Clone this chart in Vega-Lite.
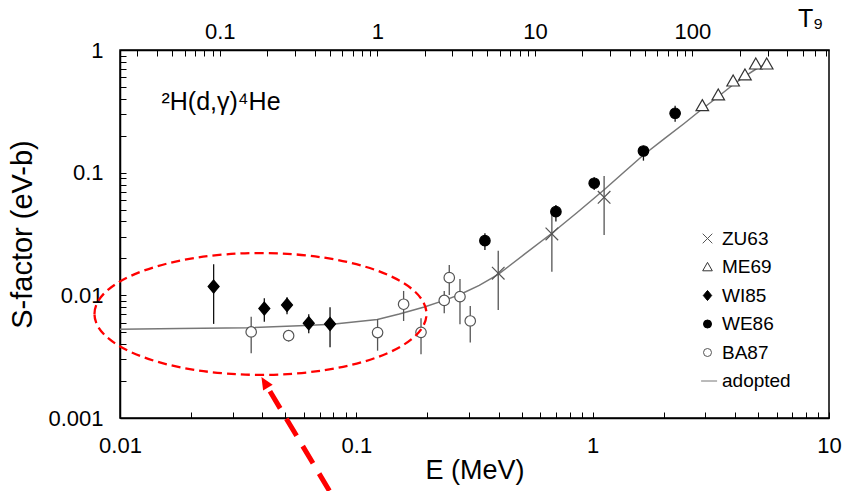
{
  "$schema": "https://vega.github.io/schema/vega-lite/v6.json",
  "width": 709,
  "height": 368,
  "autosize": "none",
  "padding": {"left": 120, "top": 50, "right": 15, "bottom": 73},
  "background": "white",
  "config": {
    "view": {"stroke": "#000", "strokeWidth": 1.5},
    "axis": {"grid": false, "labelFont": "Liberation Sans", "titleFont": "Liberation Sans", "labelColor": "#000", "titleColor": "#000", "titleFontWeight": "normal", "domainColor": "#000", "domainWidth": 1.5, "tickColor": "#000", "tickWidth": 1, "labelFlush": false, "labelOverlap": false},
    "legend": {"orient": "none", "legendX": 578, "legendY": 179, "labelFont": "Liberation Sans", "labelFontSize": 19, "labelColor": "#000", "symbolSize": 64, "rowPadding": 8.5, "labelOffset": 5, "symbolStrokeWidth": 1, "padding": 0}
  },
  "datasets": {
    "pts": [
      {"series": "ZU63", "E": 0.3985, "S": 0.01514, "lo": 0.0076, "hi": 0.0231},
      {"series": "ZU63", "E": 0.672, "S": 0.03165, "lo": 0.0156, "hi": 0.0467},
      {"series": "ZU63", "E": 1.118, "S": 0.063, "lo": 0.0311, "hi": 0.094},
      {"series": "ME69", "E": 2.91, "S": 0.3516, "lo": 0.325, "hi": 0.3516},
      {"series": "ME69", "E": 3.40, "S": 0.4298, "lo": 0.397, "hi": 0.4298},
      {"series": "ME69", "E": 3.93, "S": 0.5587, "lo": 0.515, "hi": 0.5587},
      {"series": "ME69", "E": 4.41, "S": 0.6256, "lo": 0.578, "hi": 0.6256},
      {"series": "ME69", "E": 4.90, "S": 0.769, "lo": 0.71, "hi": 0.769},
      {"series": "ME69", "E": 5.45, "S": 0.769, "lo": 0.71, "hi": 0.769},
      {"series": "WI85", "E": 0.0249, "S": 0.01178, "lo": 0.00585, "hi": 0.01792},
      {"series": "WI85", "E": 0.0408, "S": 0.0078, "lo": 0.0061, "hi": 0.00947},
      {"series": "WI85", "E": 0.0509, "S": 0.00835, "lo": 0.00702, "hi": 0.00965},
      {"series": "WI85", "E": 0.0629, "S": 0.00592, "lo": 0.00491, "hi": 0.00702},
      {"series": "WI85", "E": 0.0774, "S": 0.00585, "lo": 0.00378, "hi": 0.0080},
      {"series": "WE86", "E": 0.350, "S": 0.0279, "lo": 0.0234, "hi": 0.0321},
      {"series": "WE86", "E": 0.699, "S": 0.0481, "lo": 0.0399, "hi": 0.0545},
      {"series": "WE86", "E": 1.015, "S": 0.0820, "lo": 0.0723, "hi": 0.0918},
      {"series": "WE86", "E": 1.64, "S": 0.1502, "lo": 0.1253, "hi": 0.165},
      {"series": "WE86", "E": 2.233, "S": 0.305, "lo": 0.2604, "hi": 0.3516},
      {"series": "BA87", "E": 0.0359, "S": 0.00503, "lo": 0.00337, "hi": 0.0067},
      {"series": "BA87", "E": 0.0517, "S": 0.00469, "lo": 0.0042, "hi": 0.00522},
      {"series": "BA87", "E": 0.123, "S": 0.00497, "lo": 0.00354, "hi": 0.00638},
      {"series": "BA87", "E": 0.1585, "S": 0.00846, "lo": 0.00618, "hi": 0.01086},
      {"series": "BA87", "E": 0.1878, "S": 0.00499, "lo": 0.00331, "hi": 0.0065},
      {"series": "BA87", "E": 0.2355, "S": 0.00909, "lo": 0.00715, "hi": 0.01086},
      {"series": "BA87", "E": 0.2473, "S": 0.01394, "lo": 0.01008, "hi": 0.0177},
      {"series": "BA87", "E": 0.2745, "S": 0.00976, "lo": 0.00581, "hi": 0.0136},
      {"series": "BA87", "E": 0.3034, "S": 0.00618, "lo": 0.00412, "hi": 0.0082}
    ],
    "curve": [
      {"series": "adopted", "E": 0.01, "S": 0.00529},
      {"series": "adopted", "E": 0.01785, "S": 0.00537},
      {"series": "adopted", "E": 0.03528, "S": 0.00545},
      {"series": "adopted", "E": 0.05741, "S": 0.00565},
      {"series": "adopted", "E": 0.0791, "S": 0.00581},
      {"series": "adopted", "E": 0.1227, "S": 0.00636},
      {"series": "adopted", "E": 0.152, "S": 0.00705},
      {"series": "adopted", "E": 0.1939, "S": 0.00804},
      {"series": "adopted", "E": 0.2355, "S": 0.00909},
      {"series": "adopted", "E": 0.2745, "S": 0.01017},
      {"series": "adopted", "E": 0.3312, "S": 0.01204},
      {"series": "adopted", "E": 0.3985, "S": 0.01481},
      {"series": "adopted", "E": 0.5133, "S": 0.02154},
      {"series": "adopted", "E": 0.672, "S": 0.03207},
      {"series": "adopted", "E": 0.860, "S": 0.04738},
      {"series": "adopted", "E": 1.115, "S": 0.07228},
      {"series": "adopted", "E": 1.359, "S": 0.1013},
      {"series": "adopted", "E": 1.640, "S": 0.1394},
      {"series": "adopted", "E": 2.006, "S": 0.1883},
      {"series": "adopted", "E": 2.438, "S": 0.2518},
      {"series": "adopted", "E": 2.904, "S": 0.3305},
      {"series": "adopted", "E": 3.360, "S": 0.4101},
      {"series": "adopted", "E": 3.890, "S": 0.5135},
      {"series": "adopted", "E": 4.371, "S": 0.6025},
      {"series": "adopted", "E": 4.913, "S": 0.6999},
      {"series": "adopted", "E": 5.467, "S": 0.7762}
    ]
  },
  "layer": [
    {
      "layer": [
        {
          "data": {"name": "curve"},
          "mark": {"type": "line", "strokeWidth": 1.5},
          "encoding": {
            "x": {"field": "E", "type": "quantitative", "title": "E (MeV)",
              "scale": {"type": "log", "domain": [0.01, 10], "nice": false},
              "axis": {"orient": "bottom", "values": [0.01,0.02,0.03,0.04,0.05,0.06,0.07,0.08,0.09,0.1,0.2,0.3,0.4,0.5,0.6,0.7,0.8,0.9,1,2,3,4,5,6,7,8,9,10],
                "format": "~g", "labelExpr": "indexof([0.01,0.1,1,10], datum.value) >= 0 ? datum.label : ''",
                "tickSize": -6, "labelPadding": 23, "labelFontSize": 22, "titleFontSize": 27, "titlePadding": 1}},
            "y": {"field": "S", "type": "quantitative", "title": "S-factor (eV-b)",
              "scale": {"type": "log", "domain": [0.001, 1], "nice": false},
              "axis": {"values": [0.001,0.002,0.003,0.004,0.005,0.006,0.007,0.008,0.009,0.01,0.02,0.03,0.04,0.05,0.06,0.07,0.08,0.09,0.1,0.2,0.3,0.4,0.5,0.6,0.7,0.8,0.9,1],
                "format": "~g", "labelExpr": "indexof([0.001,0.01,0.1,1], datum.value) >= 0 ? datum.label : ''",
                "tickSize": -6, "labelPadding": 23, "labelFontSize": 22, "titleFontSize": 29, "titlePadding": 10}},
            "stroke": {"field": "series", "type": "nominal", "legend": {"title": null},
              "scale": {"domain": ["ZU63","ME69","WI85","WE86","BA87","adopted"], "range": ["#555555","#333333","#000000","#000000","#555555","#777777"]}}
          }
        },
        {
          "data": {"name": "pts"},
          "mark": {"type": "rule", "strokeWidth": 1.3},
          "encoding": {
            "x": {"field": "E", "type": "quantitative", "title": "E (MeV)"},
            "y": {"field": "lo", "type": "quantitative", "title": "S-factor (eV-b)"},
            "y2": {"field": "hi"},
            "color": {"condition": {"test": "datum.series === 'BA87' || datum.series === 'ZU63'", "value": "#555555"}, "value": "#111111"}
          }
        },
        {
          "data": {"name": "pts"},
          "mark": {"type": "point", "size": 110, "strokeWidth": 1.2, "opacity": 1},
          "encoding": {
            "x": {"field": "E", "type": "quantitative", "title": "E (MeV)"},
            "y": {"field": "S", "type": "quantitative", "title": "S-factor (eV-b)"},
            "shape": {"field": "series", "type": "nominal", "legend": {"title": null},
              "scale": {"domain": ["ZU63","ME69","WI85","WE86","BA87","adopted"],
                "range": ["M-1.2,-1.2L1.2,1.2M-1.2,1.2L1.2,-1.2", "M0,-1.15L1.2,0.95L-1.2,0.95Z", "M0,-1.25L1.05,0L0,1.25L-1.05,0Z", "circle", "circle", "M-1.6,0H2.4"]}},
            "fill": {"field": "series", "type": "nominal", "legend": {"title": null},
              "scale": {"domain": ["ZU63","ME69","WI85","WE86","BA87","adopted"], "range": ["transparent","#ffffff","#000000","#000000","#ffffff","transparent"]}},
            "stroke": {"field": "series", "type": "nominal", "legend": {"title": null}}
          }
        },
        {
          "data": {"values": [{"E": 0.01498, "S": 0.324, "label": "²H(d,γ)⁴He"}]},
          "mark": {"type": "text", "align": "left", "baseline": "alphabetic", "font": "Liberation Sans", "fontSize": 25, "color": "#000"},
          "encoding": {
            "x": {"field": "E", "type": "quantitative", "title": "E (MeV)"},
            "y": {"field": "S", "type": "quantitative", "title": "S-factor (eV-b)"},
            "text": {"field": "label"}
          }
        },
        {
          "data": {"values": [{"E": 0.0393, "S": 0.00705}]},
          "mark": {"type": "point", "shape": "M-1,0A1,0.367,0,1,1,1,0A1,0.367,0,1,1,-1,0Z", "size": 110224, "filled": false, "stroke": "#ff0000", "strokeWidth": 2.3, "strokeDash": [9, 5], "opacity": 1},
          "encoding": {
            "x": {"field": "E", "type": "quantitative", "title": "E (MeV)"},
            "y": {"field": "S", "type": "quantitative", "title": "S-factor (eV-b)"}
          }
        },
        {
          "data": {"values": [{"E": 0.0769, "S": 0.000255, "E2": 0.04108, "S2": 0.001932}]},
          "mark": {"type": "rule", "stroke": "#ff0000", "strokeWidth": 5, "strokeDash": [20, 12]},
          "encoding": {
            "x": {"field": "E", "type": "quantitative", "title": "E (MeV)"},
            "y": {"field": "S", "type": "quantitative", "title": "S-factor (eV-b)"},
            "x2": {"field": "E2"},
            "y2": {"field": "S2"}
          }
        },
        {
          "data": {"values": [{"E": 0.04108, "S": 0.001932}]},
          "mark": {"type": "point", "shape": "M0,-1L0.8,0.8L-0.8,0.8Z", "size": 196, "filled": true, "fill": "#ff0000", "strokeWidth": 0, "angle": -31, "opacity": 1},
          "encoding": {
            "x": {"field": "E", "type": "quantitative", "title": "E (MeV)"},
            "y": {"field": "S", "type": "quantitative", "title": "S-factor (eV-b)"}
          }
        }
      ]
    },
    {
      "data": {"values": [{"T9": 1}]},
      "mark": {"type": "rule", "opacity": 0},
      "encoding": {
        "x": {"field": "T9", "type": "quantitative",
          "scale": {"type": "log", "domain": [0.02327, 735.8], "nice": false},
          "axis": {"orient": "top", "values": [0.03,0.04,0.05,0.06,0.07,0.08,0.09,0.1,0.2,0.3,0.4,0.5,0.6,0.7,0.8,0.9,1,2,3,4,5,6,7,8,9,10,20,30,40,50,60,70,80,90,100,200,300,400,500,600,700],
            "format": "~g", "labelExpr": "indexof([0.1,1,10,100], datum.value) >= 0 ? datum.label : ''",
            "tickSize": -6, "labelPadding": 13, "labelFontSize": 22,
            "title": "T₉", "titleFontSize": 25, "titleX": 690, "titleY": -24, "titleAlign": "center", "titleBaseline": "alphabetic", "titleAngle": 0}}
      }
    }
  ],
  "resolve": {"scale": {"x": "independent"}}
}
